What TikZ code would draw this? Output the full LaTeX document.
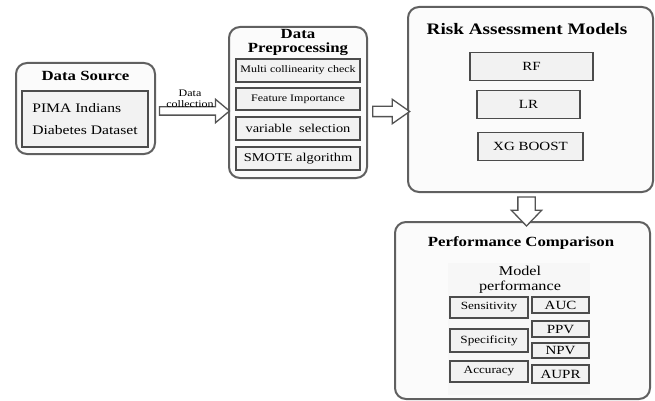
\documentclass[tikz,border=0pt]{standalone}
\usepackage{fontspec}
\setmainfont{Liberation Serif}[FakeStretch=1.2]
\usetikzlibrary{shapes.arrows, calc}

\begin{document}
\begin{tikzpicture}[x=1pt, y=-1pt,
    outerbox/.style={draw=gray!75!black, line width=2pt, rounded corners=11pt, fill=gray!3},
    innerbox/.style={draw=gray!60!black, line width=1.8pt, fill=gray!10, inner sep=0pt},
    blockarrow/.style={single arrow, draw=gray!65!black, line width=1.3pt, fill=white,
        inner sep=0pt, single arrow head indent=0pt},
    titletext/.style={font=\fontsize{14}{15}\selectfont\bfseries, align=center}]
\useasboundingbox (0,0) rectangle (655,401);

% outer boxes
\node[outerbox, minimum width=139, minimum height=91] (src) at (85.5,108.5) {};
\node[outerbox, minimum width=138, minimum height=151] (pre) at (298,102.5) {};
\node[outerbox, minimum width=245, minimum height=185] (risk) at (530.5,99.5) {};
\node[outerbox, minimum width=255, minimum height=177] (perf) at (522.5,310.5) {};

% titles
\node[titletext] (srctitle) at (85.5,76) {Data Source};
\node[titletext] (pretitle) at (298,42.5) {Data\\[-1pt]Preprocessing};
\node[titletext, font=\fontsize{16}{18}\selectfont\bfseries] (risktitle) at (527,29) {Risk Assessment Models};
\node[titletext] (perftitle) at (521,243) {Performance Comparison};

% data source
\node[innerbox, minimum width=126, minimum height=56, align=left,
    font=\fontsize{13}{22}\selectfont] (pima) at (85,119) {PIMA Indians\\Diabetes Dataset};

% preprocessing steps
\foreach \name/\y/\h/\fs/\txt in {
    multi/70.5/23/10/Multi collinearity check,
    feat/99/22/10/Feature Importance,
    vars/128.5/23/12/variable\ \ selection,
    smote/158.5/23/12/SMOTE algorithm
} {
    \node[innerbox, minimum width=124, minimum height=\h,
        font=\fontsize{\fs}{\fs}\selectfont] (\name) at (298,\y) {\txt};
}

% models
\foreach \name/\x/\y/\w/\txt in {
    rf/531.5/66.5/123/RF,
    lr/528.5/104.5/103/LR,
    xgb/530.5/146.5/105/XG BOOST
} {
    \node[innerbox, minimum width=\w, minimum height=28,
        font=\fontsize{12.5}{13}\selectfont] (\name) at (\x,\y) {\txt};
}

% performance metrics
\node[fill=gray!6, minimum width=142, minimum height=132] (panel) at (519,329) {};
\node[align=center, font=\fontsize{13.5}{15}\selectfont] (modelperf) at (520,279.5) {Model\\performance};
\foreach \name/\x/\y/\w/\h/\fs/\txt in {
    sens/489/307.5/78/21/11/Sensitivity,
    spec/489/340.5/78/23/11/Specificity,
    acc/489/371.5/78/21/11/Accuracy,
    auc/560.5/305/57/16/12.5/AUC,
    ppv/560.5/329/57/16/12.5/PPV,
    npv/560.5/350.5/57/15/12.5/NPV,
    aupr/560.5/374/57/18/12.5/AUPR
} {
    \node[innerbox, line width=1.6pt, minimum width=\w, minimum height=\h,
        font=\fontsize{\fs}{\fs}\selectfont] (\name) at (\x,\y) {\txt};
}

% connectors
\node[blockarrow, minimum height=70, single arrow head extend=7.5,
    single arrow tip angle=80] (arr1) at ($(src.east)!0.5!(pre.west)+(0,5.5)$) {\rule{0pt}{7pt}};
\node[font=\fontsize{10}{11}\selectfont, align=center] (collect) at ($(arr1.north)+(-2,-7)$) {Data\\collection};
\node[blockarrow, minimum height=37, single arrow head extend=7,
    single arrow tip angle=70] (arr2) at ($(pre.east)!0.5!(risk.west)+(0,10.5)$) {\rule{0pt}{9pt}};
\node[blockarrow, minimum height=29, single arrow head extend=6.5,
    single arrow tip angle=88, shape border rotate=270] (arr3) at ($(risk.south)!0.5!(perf.north)$) {\rule{16pt}{0pt}};
\end{tikzpicture}
\end{document}
